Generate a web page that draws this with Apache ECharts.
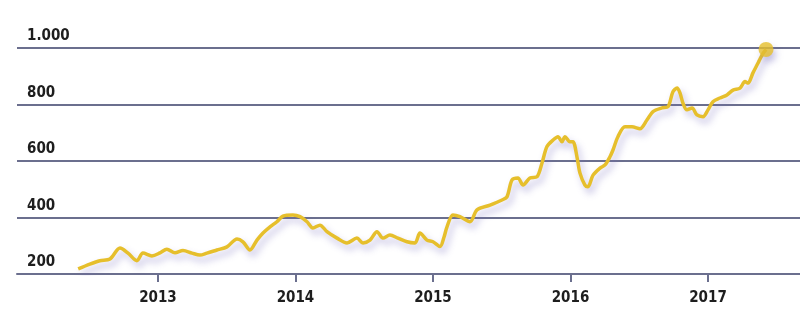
<!DOCTYPE html>
<html>
<head>
<meta charset="utf-8">
<script src="https://cdn.jsdelivr.net/npm/echarts@6/dist/echarts.min.js"></script>
<style>
  html, body { margin: 0; padding: 0; background: #fff; }
  #chart { width: 800px; height: 326px; }
</style>
</head>
<body>
<div id="chart"></div>
<script>
// Time positions as fractional years, index values at each position
const years = [
  2012.420, 2012.505, 2012.578, 2012.651, 2012.724, 2012.782, 2012.847, 2012.891, 2012.956,
  2013.015, 2013.065, 2013.124, 2013.182, 2013.247, 2013.305, 2013.356, 2013.429, 2013.502,
  2013.575, 2013.618, 2013.669, 2013.720, 2013.764, 2013.815, 2013.865, 2013.909, 2013.982,
  2014.033, 2014.084, 2014.127, 2014.178, 2014.229, 2014.302, 2014.375, 2014.447, 2014.491,
  2014.542, 2014.593, 2014.636, 2014.687, 2014.745, 2014.811, 2014.869, 2014.905, 2014.956,
  2015.000, 2015.051, 2015.080, 2015.102, 2015.145, 2015.196, 2015.269, 2015.320, 2015.415,
  2015.502, 2015.538, 2015.575, 2015.618, 2015.655, 2015.705, 2015.756, 2015.793, 2015.829,
  2015.873, 2015.909, 2015.938, 2015.960, 2015.996, 2016.018, 2016.047, 2016.069, 2016.105,
  2016.127, 2016.164, 2016.215, 2016.251, 2016.287, 2016.309, 2016.345, 2016.396, 2016.447,
  2016.505, 2016.556, 2016.600, 2016.665, 2016.709, 2016.745, 2016.775, 2016.796, 2016.818,
  2016.847, 2016.884, 2016.920, 2016.964, 2017.000, 2017.036, 2017.087, 2017.138, 2017.182,
  2017.233, 2017.269, 2017.291, 2017.327, 2017.364, 2017.393, 2017.422
];
const values = [
  218, 235, 247, 253, 292, 274, 247, 274, 264,
  275, 288, 275, 283, 274, 267, 274, 285, 296,
  324, 314, 285, 320, 345, 367, 385, 405, 409,
  403, 385, 363, 373, 350, 327, 310, 327, 310,
  320, 350, 327, 338, 327, 314, 310, 345, 320,
  314, 297, 330, 367, 409, 403, 385, 427, 444,
  462, 473, 533, 540, 515, 540, 544, 593, 651,
  674, 686, 668, 686, 668, 668, 615, 557, 515,
  509, 550, 575, 586, 615, 639, 686, 721, 721,
  714, 745, 775, 788, 792, 845, 858, 841, 805,
  781, 788, 763, 757, 781, 810, 823, 834, 851,
  858, 881, 876, 912, 947, 975, 995
];
const yearTicks = [2013, 2014, 2015, 2016, 2017];
const valueTicks = [200, 400, 600, 800, 1000];

const gold = '#E6BF2C';
const gridColor = '#6B6F8E';
const shadow = 'rgba(120, 110, 190, 0.45)';
const font = "'DejaVu Sans Condensed', 'Liberation Sans Narrow', 'Liberation Sans', sans-serif";

const lineData = years.map((y, i) => [y, values[i]]);
const last = lineData[lineData.length - 1];

const chart = echarts.init(document.getElementById('chart'), null, { renderer: 'canvas' });
chart.setOption({
  animation: false,
  backgroundColor: '#ffffff',
  grid: { left: 17, right: 0, top: 48, bottom: 52 },
  xAxis: {
    type: 'value',
    min: 2011.975,
    max: 2017.669,
    axisLine: { show: true, lineStyle: { color: gridColor, width: 2 } },
    axisTick: {
      show: true, length: 8, customValues: yearTicks,
      lineStyle: { color: gridColor, width: 2 }
    },
    axisLabel: {
      customValues: yearTicks,
      formatter: v => String(v),
      margin: 17,
      color: '#1e1e1e',
      fontFamily: font,
      fontWeight: 'bold',
      fontSize: 15
    },
    splitLine: { show: false }
  },
  yAxis: {
    type: 'value',
    min: valueTicks[0],
    max: valueTicks[valueTicks.length - 1],
    interval: 200,
    axisLine: { show: false },
    axisTick: { show: false },
    axisLabel: {
      inside: true,
      margin: 10,
      verticalAlign: 'bottom',
      padding: [0, 0, 4, 0],
      color: '#1e1e1e',
      fontFamily: font,
      fontWeight: 'bold',
      fontSize: 15,
      formatter: v => v >= 1000 ? (v / 1000) + '.' + String(v % 1000).padStart(3, '0') : String(v)
    },
    splitLine: { show: true, lineStyle: { color: gridColor, width: 2 } }
  },
  series: [
    {
      type: 'line',
      data: lineData,
      showSymbol: false,
      smooth: 0.3,
      lineStyle: {
        color: gold, width: 3.5,
        shadowColor: shadow, shadowBlur: 7,
        shadowOffsetX: 3, shadowOffsetY: 5
      },
      z: 3
    },
    {
      type: 'scatter',
      data: [last],
      symbol: 'circle',
      symbolSize: 15,
      itemStyle: {
        color: gold,
        shadowColor: shadow, shadowBlur: 7,
        shadowOffsetX: 3, shadowOffsetY: 5
      },
      z: 4
    }
  ]
});
</script>
</body>
</html>
